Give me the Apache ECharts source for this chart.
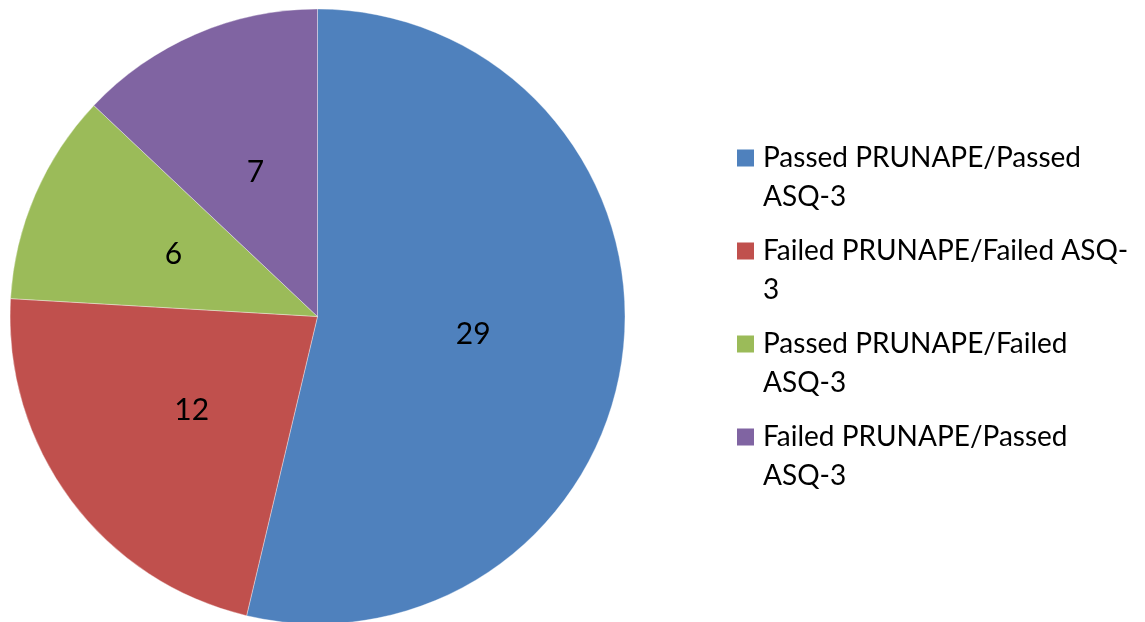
<!DOCTYPE html>
<html>
<head>
<meta charset="utf-8">
<script src="https://cdn.jsdelivr.net/npm/echarts@6/dist/echarts.min.js"></script>
<style>
html,body{margin:0;padding:0;background:#fff;}
#chart{width:1145px;height:622px;}
</style>
</head>
<body>
<div id="chart"></div>
<script>
const categories = [
  'Passed PRUNAPE/Passed ASQ-3',
  'Failed PRUNAPE/Failed ASQ-3',
  'Passed PRUNAPE/Failed ASQ-3',
  'Failed PRUNAPE/Passed ASQ-3'
];
const legendText = [
  'Passed PRUNAPE/Passed\nASQ-3',
  'Failed PRUNAPE/Failed ASQ-\n3',
  'Passed PRUNAPE/Failed\nASQ-3',
  'Failed PRUNAPE/Passed\nASQ-3'
];
const values = [29, 12, 6, 7];
const colors = ['#4F81BD', '#C0504D', '#9BBB59', '#8064A2'];

const FONT = 'Lato';
const chart = echarts.init(document.getElementById('chart'), null, {renderer: 'canvas'});
const icon = 'path://M0,0h0.01v0.01h-0.01z M0,11h17v17h-17z M20.99,77.99h0.01v0.01h-0.01z';

chart.setOption({
  animation: false,
  color: colors,
  legend: {
    orient: 'vertical',
    left: 737,
    top: 138.5,
    padding: 0,
    itemWidth: 21,
    itemHeight: 78,
    itemGap: 15,
    icon: icon,
    selectedMode: false,
    itemStyle: {borderWidth: 0},
    data: categories,
    formatter: function (name) { return legendText[categories.indexOf(name)]; },
    textStyle: {fontFamily: FONT, fontSize: 28, lineHeight: 39, color: '#000'}
  },
  series: [{
    type: 'pie',
    center: [317.5, 316.5],
    radius: 307.5,
    startAngle: 90,
    clockwise: true,
    label: {
      show: true,
      position: 'inside',
      formatter: '{c}',
      fontFamily: FONT,
      fontSize: 30,
      color: '#000'
    },
    labelLine: {show: false},
    itemStyle: {borderColor: 'rgba(255,255,255,0.6)', borderWidth: 0.6},
    emphasis: {disabled: true},
    data: categories.map((c, i) => ({name: c, value: values[i]}))
  }]
});
</script>
</body>
</html>
